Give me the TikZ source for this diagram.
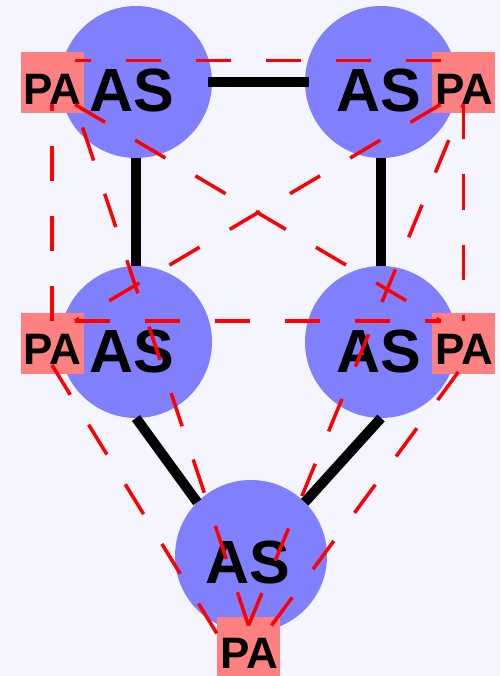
\documentclass[tikz,border=0pt]{standalone}
\usepackage{fontspec}
\setmainfont{Liberation Sans}
\definecolor{canvas}{HTML}{F5F5FF}
\definecolor{asblue}{HTML}{8080FF}
\definecolor{pared}{HTML}{FF8080}
\begin{document}
\begin{tikzpicture}[x=1pt,y=-1pt,
  asdisc/.style={circle, fill=asblue, minimum size=152pt, inner sep=0pt, outer sep=0pt},
  aslabel/.style={anchor=base, inner sep=0pt, font=\fontsize{61}{61}\selectfont\bfseries},
  pabox/.style={rectangle, fill=pared, minimum width=63pt, minimum height=61pt, inner sep=0pt, outer sep=0pt},
  palabel/.style={anchor=base, inner sep=0pt, font=\fontsize{44}{44}\selectfont\bfseries},
  port/.style={rectangle, minimum width=46pt, minimum height=44pt, inner sep=0pt, outer sep=0pt},
  peer/.style={black, line width=10pt},
  session/.style={red, line width=3.5pt, dash pattern=on 35pt off 35pt},
]
% canvas
\fill[canvas] (0,0) rectangle (500,676);
\useasboundingbox (0,0) rectangle (500,676);

% autonomous systems
\node[asdisc] (as1) at (136,82) {};
\node[asdisc] (as2) at (381,82) {};
\node[asdisc] (as3) at (136,342) {};
\node[asdisc] (as4) at (381,342) {};
\node[asdisc] (as5) at (251,556) {};

% physical links between the systems
\draw[peer, shorten <=-4pt, shorten >=-4pt] (as1.east) -- (as2.west);
\draw[peer] (as1.south) -- (as3.north);
\draw[peer] (as2.south) -- (as4.north);
\draw[peer] (as3.south) -- (as5.135);
\draw[peer] (as4.south) -- (as5.45);

% system labels
\node[aslabel] (t1) at ([xshift=-4pt,yshift=-30pt]as1.center) {AS};
\node[aslabel] (t2) at ([xshift=-2pt,yshift=-30pt]as2.center) {AS};
\node[aslabel] (t3) at ([xshift=-4pt,yshift=-30pt]as3.center) {AS};
\node[aslabel] (t4) at ([xshift=-2pt,yshift=-30pt]as4.center) {AS};
\node[aslabel] (t5) at ([xshift=-3.5pt,yshift=-27pt]as5.center) {AS};

% path agents
\node[pabox] (b1) at (52,82.5) {};
\node[pabox] (b2) at (463.5,82.5) {};
\node[pabox] (b3) at (52,343) {};
\node[pabox] (b4) at (463.5,343) {};
\node[pabox] (b5) at (248.5,647.5) {};
\node[palabel] (q1) at ([xshift=0.5pt,yshift=-22pt]b1.center) {PA};
\node[palabel] (q2) at ([xshift=0.5pt,yshift=-22pt]b2.center) {PA};
\node[palabel] (q3) at ([xshift=0.5pt,yshift=-21pt]b3.center) {PA};
\node[palabel] (q4) at ([xshift=0.5pt,yshift=-21pt]b4.center) {PA};
\node[palabel] (q5) at ([xshift=0.5pt,yshift=-20.5pt]b5.center) {PA};

% attachment frames for the agent sessions
\node[port] (p1) at (b1.center) {};
\node[port] (p2) at (b2.center) {};
\node[port] (p3) at (b3.center) {};
\node[port] (p4) at (b4.center) {};
\node[port] (p5) at (b5.center) {};

% full mesh of agent sessions
\draw[session] (p2.north west) -- (p1.north east);
\draw[session] (p3.north) -- (p1.south);
\draw[session] (p2.south) -- (p4.north);
\draw[session] (p3.north east) -- (p4.north west);
\draw[session] (p1.south east) -- (p4.north west);
\draw[session] (p2.south west) -- (p3.north east);
\draw[session] (p5.north) -- (p1.south east);
\draw[session] (p5.north) -- (p2.south);
\draw[session] (p3.south) -- (p5.west);
\draw[session] (p5.north east) -- (p4.south);
\end{tikzpicture}
\end{document}
